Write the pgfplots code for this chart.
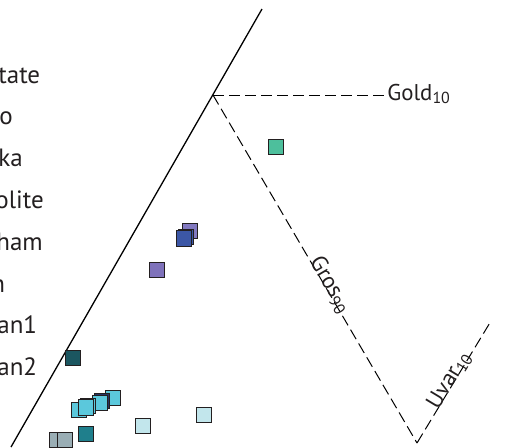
\documentclass[border=0pt]{standalone}
\usepackage{pgfplots}
\pgfplotsset{compat=1.18}
\usepackage{fontspec}
\setmainfont{PT Sans}
\definecolor{txt}{HTML}{231F20}
\definecolor{cgreen}{HTML}{4DBF9C}
\definecolor{cpurpleA}{HTML}{8279C0}
\definecolor{cblue}{HTML}{3C57A6}
\definecolor{cpurpleB}{HTML}{7F72BB}
\definecolor{cdteal}{HTML}{1B5660}
\definecolor{ccyan}{HTML}{5BC8DC}
\definecolor{clcyan}{HTML}{C2E6EC}
\definecolor{cteal}{HTML}{1F7F8C}
\definecolor{cgrey}{HTML}{9AAEB5}
\begin{document}
\begin{tikzpicture}
\path[use as bounding box] (0,0) rectangle (260pt,223.5pt);
\clip (0,0) rectangle (260pt,223.5pt);
\begin{axis}[at={(0,0)}, anchor=south west, scale only axis,
  width=260pt, height=223.5pt, xmin=0, xmax=520, ymin=-447, ymax=0,
  hide axis, clip=false,
  every axis plot/.append style={line width=0.5pt},
  sq/.style={only marks, mark=square*, mark size=3.9pt,
     mark options={draw=txt, line width=0.55pt}}]
% triangle side (solid)
\addplot[black, line width=0.65pt] coordinates {(262,-9) (11,-447)};
% dashed sub-field boundaries
\addplot[black, dash pattern=on 5.5pt off 2.5pt] coordinates {(213,-95) (385,-95)};
\addplot[black, dash pattern=on 5.5pt off 2.5pt] coordinates {(213,-95) (417,-443)};
\addplot[black, dash pattern=on 5.5pt off 2.5pt] coordinates {(417,-443) (491,-321)};
% data
\addplot[sq, fill=cgreen] coordinates {(276,-147)};
\addplot[sq, fill=cpurpleA] coordinates {(190,-231)};
\addplot[sq, fill=cblue] coordinates {(186,-237)};
\addplot[sq, fill=cblue] coordinates {(184,-238.5)};
\addplot[sq, fill=cpurpleB] coordinates {(157,-270)};
\addplot[sq, fill=cdteal] coordinates {(73,-358)};
\addplot[sq, fill=ccyan] coordinates {(113,-398)};
\addplot[sq, fill=cblue!60!black] coordinates {(102,-401)};
\addplot[sq, fill=ccyan] coordinates {(100,-403)};
\addplot[sq, fill=ccyan] coordinates {(79,-410)};
\addplot[sq, fill=ccyan] coordinates {(88,-406)};
\addplot[sq, fill=ccyan] coordinates {(86,-407.5)};
\addplot[sq, fill=clcyan] coordinates {(143,-426)};
\addplot[sq, fill=clcyan] coordinates {(204,-415)};
\addplot[sq, fill=cteal] coordinates {(86,-434)};
\addplot[sq, fill=cgrey] coordinates {(57,-440)};
\addplot[sq, fill=cgrey] coordinates {(65,-440)};
% labels
\node[anchor=base west, inner sep=0pt, text=txt, font=\fontsize{11.4pt}{13pt}\selectfont] at (axis cs:387,-100) {Gold\textsubscript{10}};
\node[anchor=base, inner sep=0pt, text=txt, rotate=-59.6, font=\fontsize{11.4pt}{13pt}\selectfont] at (axis cs:325,-288) {Gros\textsubscript{90}};
\node[anchor=base, inner sep=0pt, text=txt, rotate=58.9, font=\fontsize{11.4pt}{13pt}\selectfont] at (axis cs:454.5,-383) {Uvar\textsubscript{10}};
% legend labels (cut at the left edge)
\begin{scope}[every node/.style={anchor=base west, inner sep=0pt, text=txt, font=\fontsize{12.5pt}{15pt}\selectfont}]
\node at (axis cs:-2,-83) {tate};
\node at (axis cs:-1,-124.8) {o};
\node at (axis cs:-2,-166.6) {ka};
\node at (axis cs:-5,-208.4) {olite};
\node at (axis cs:-4,-250.2) {ham};
\node at (axis cs:-9,-292) {n};
\node at (axis cs:-3,-333.8) {an1};
\node at (axis cs:-3,-375.6) {an2};
\end{scope}
\end{axis}
\end{tikzpicture}
\end{document}
